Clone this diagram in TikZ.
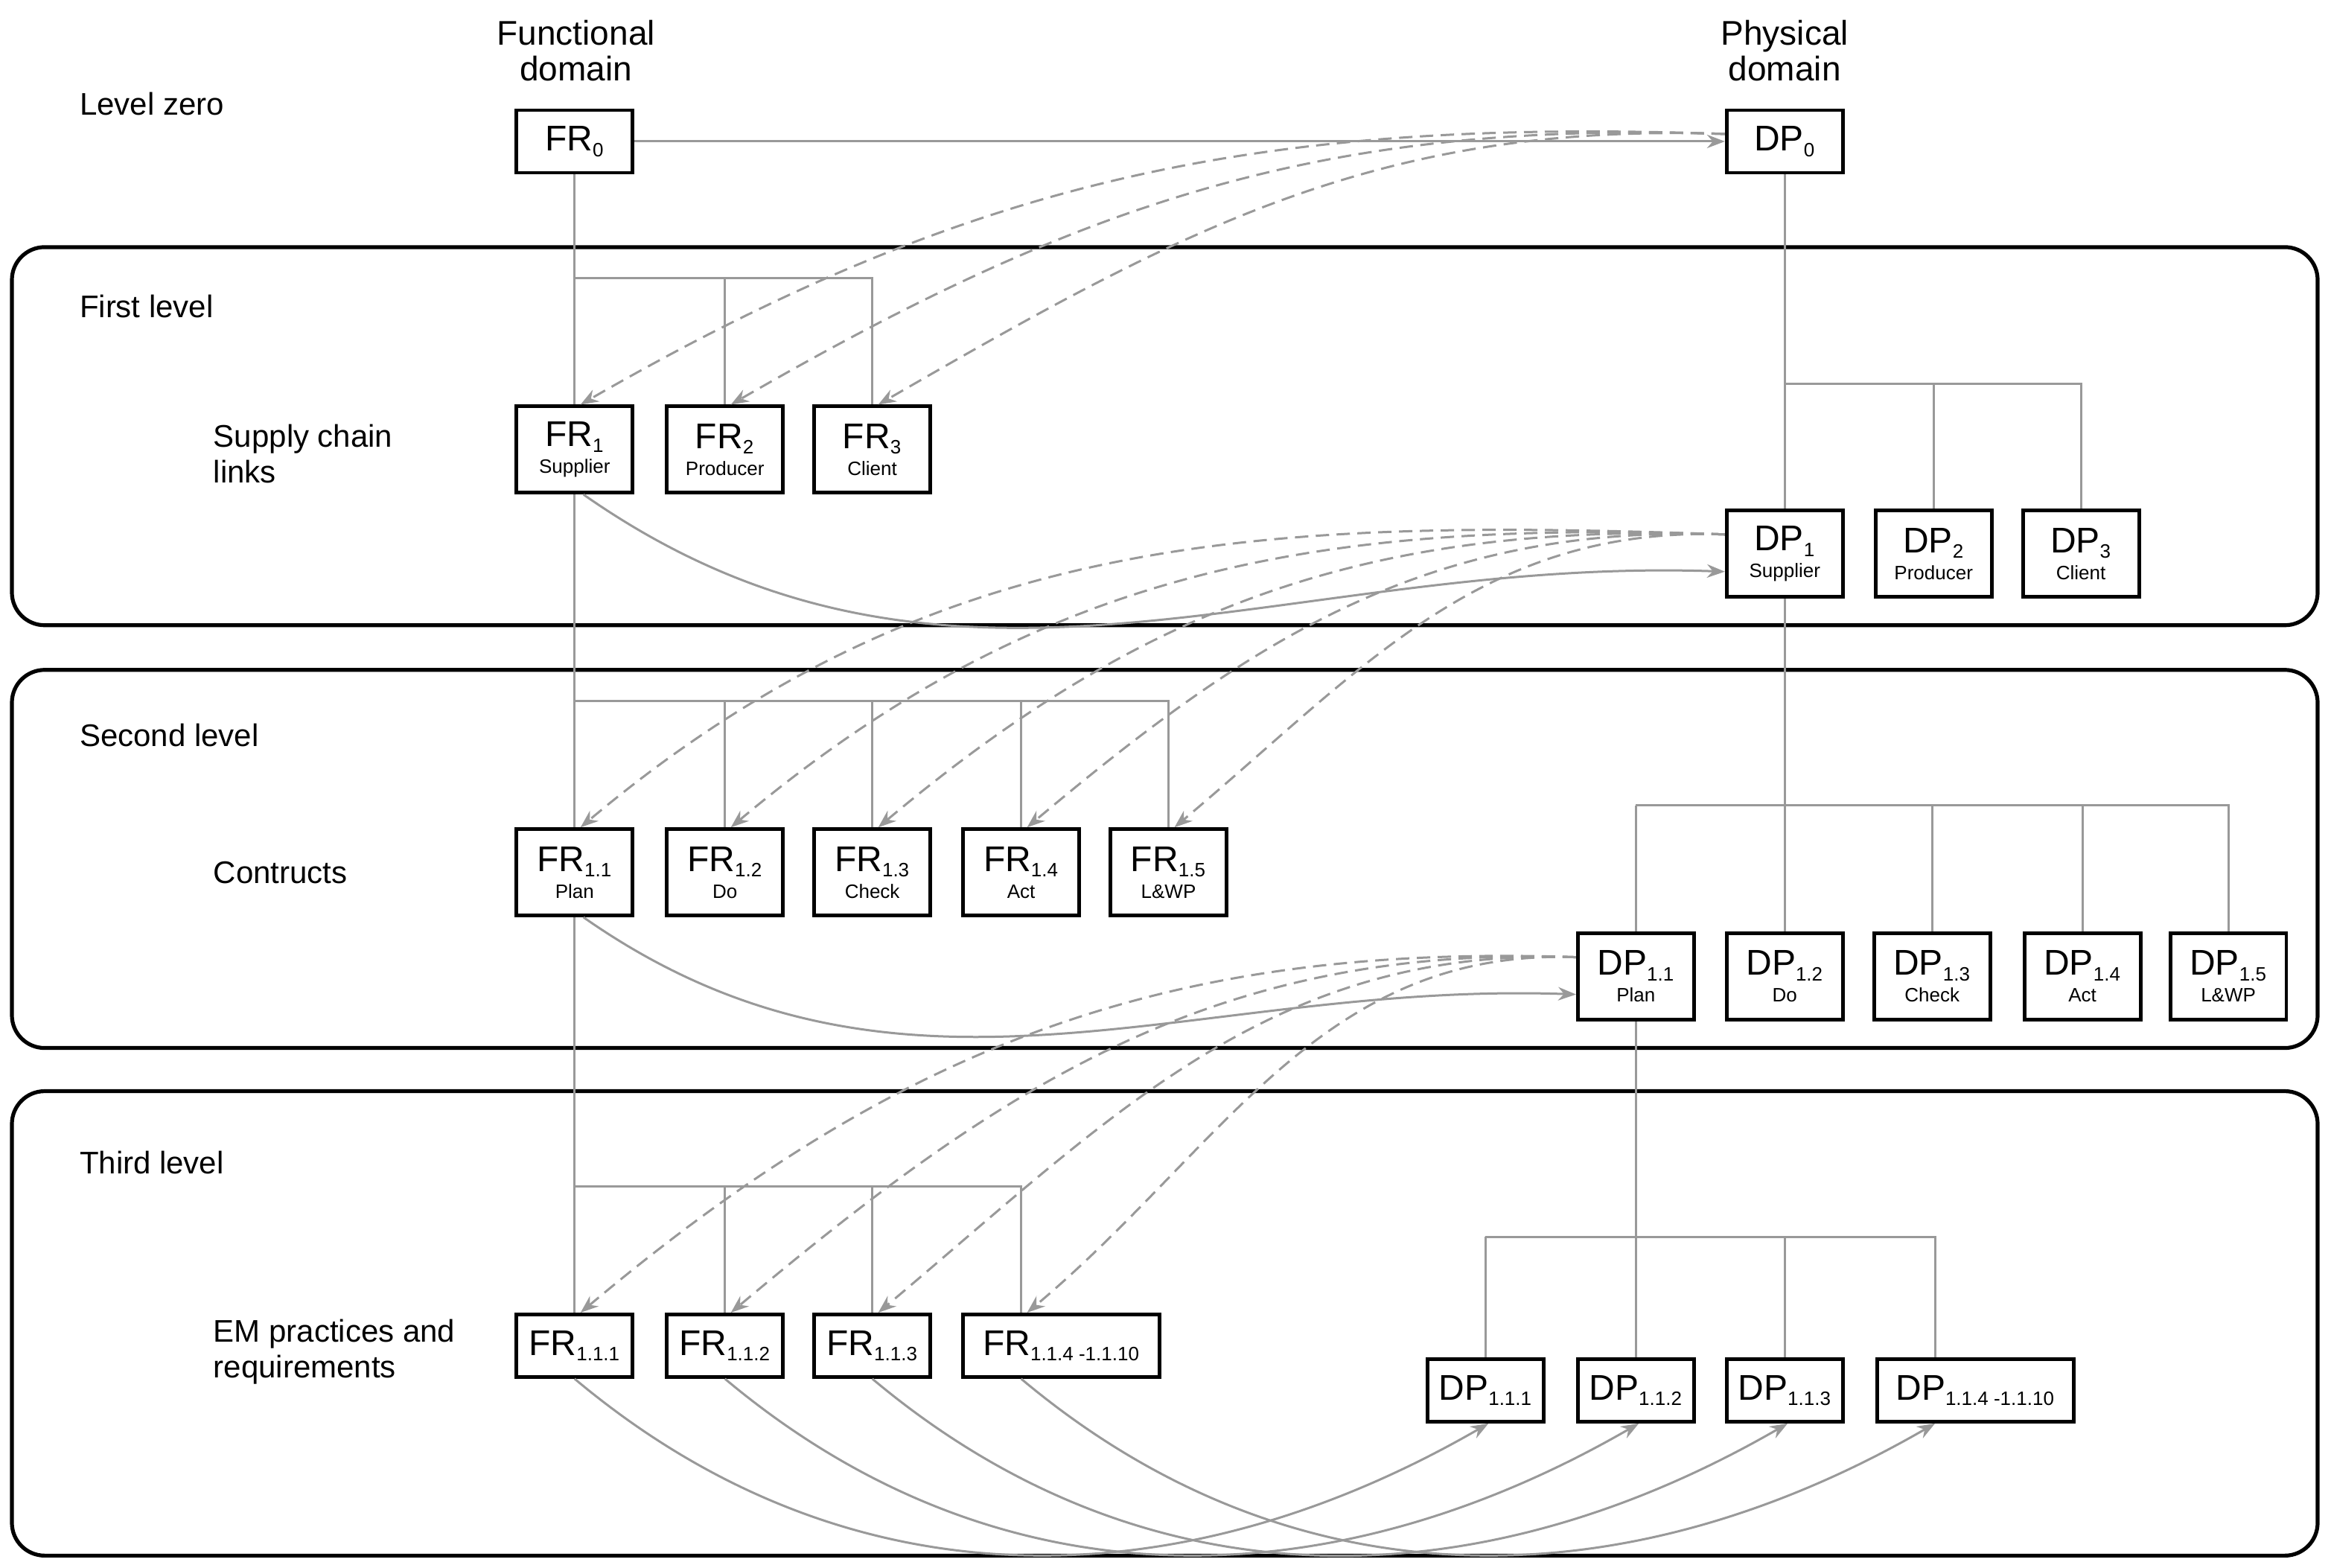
\documentclass[tikz,border=0pt]{standalone}
\usepackage{fontspec}
\setmainfont{Liberation Sans}
\usetikzlibrary{arrows.meta}
\begin{document}
\begin{tikzpicture}[x=1pt,y=-1pt,
 lvl/.style={draw=black,line width=2.6pt,rounded corners=22pt},
 bx/.style={draw=black,line width=2.4pt,fill=white,minimum width=78pt,minimum height=58pt,inner sep=1pt,align=center,font=\fontsize{24}{22}\selectfont},
 bs/.style={bx,minimum height=42pt},
 tr/.style={draw=gray!80,line width=1.5pt},
 ar/.style={draw=gray!80,line width=1.5pt,-{Stealth[length=12pt,width=9pt]}},
 da/.style={ar,dash pattern=on 9pt off 5pt},
 tx/.style={anchor=west,font=\fontsize{21}{24}\selectfont,align=left}]
\useasboundingbox (0,0) rectangle (1566,1053);
\newcommand{\sm}[1]{\\[-4pt]{\fontsize{13}{13}\selectfont #1}}
\newcommand{\sub}[1]{\textsubscript{\fontsize{13}{13}\selectfont #1}}
\draw[lvl] (8,166) rectangle (1557,420);
\draw[lvl] (8,450) rectangle (1557,704);
\draw[lvl] (8,733) rectangle (1557,1045);
\node[tx] (l0) at (50,70) {Level zero};
\node[tx] (l1) at (50,206) {First level};
\node[tx] (l2) at (50,494) {Second level};
\node[tx] (l3) at (50,781) {Third level};
\node[tx] (s1) at (140,305) {Supply chain\\links};
\node[tx] (s2) at (140,586) {Contructs};
\node[tx] (s3) at (140,908) {EM practices and\\requirements};
\node[align=center,font=\fontsize{23}{24}\selectfont] (fd) at (387,34) {Functional\\domain};
\node[align=center,font=\fontsize{23}{24}\selectfont] (pd) at (1199,34) {Physical\\domain};
% tree lines
\coordinate (a0) at (386,187); \coordinate (a3) at (586,187);
\coordinate (b0) at (386,471); \coordinate (b5) at (785,471);
\coordinate (c0) at (386,797); \coordinate (c4) at (686,797);
\coordinate (d0) at (1199,258); \coordinate (d3) at (1398,258);
\coordinate (e1) at (1099,541); \coordinate (e5) at (1497,541);
\coordinate (f1) at (998,831); \coordinate (f4) at (1300,831);
\draw[tr] (386,95)--(386,904);
\draw[tr] (1199,95)--(1199,372)--(1199,656);
\draw[tr] (1099,656)--(1099,934);
\draw[tr] (a0)--(a3)--(586,302) (487,187)--(487,302);
\draw[tr] (b0)--(b5)--(785,586) (487,471)--(487,586) (586,471)--(586,586) (686,471)--(686,586);
\draw[tr] (c0)--(c4)--(686,904) (487,797)--(487,904) (586,797)--(586,904);
\draw[tr] (d0)--(d3)--(1398,372) (1299,258)--(1299,372);
\draw[tr] (e1)--(e5)--(1497,656) (1099,541)--(1099,656) (1298,541)--(1298,656) (1399,541)--(1399,656);
\draw[tr] (f1)--(f4)--(1300,934) (998,831)--(998,934) (1199,831)--(1199,934);
% nodes
\node[bs] (FR0) at (386,95) {FR\sub{0}};
\node[bs] (DP0) at (1199,95) {DP\sub{0}};
\node[bx] (FR1) at (386,302) {FR\sub{1}\sm{Supplier}};
\node[bx] (FR2) at (487,302) {FR\sub{2}\sm{Producer}};
\node[bx] (FR3) at (586,302) {FR\sub{3}\sm{Client}};
\node[bx] (DP1) at (1199,372) {DP\sub{1}\sm{Supplier}};
\node[bx] (DP2) at (1299,372) {DP\sub{2}\sm{Producer}};
\node[bx] (DP3) at (1398,372) {DP\sub{3}\sm{Client}};
\node[bx] (FR11) at (386,586) {FR\sub{1.1}\sm{Plan}};
\node[bx] (FR12) at (487,586) {FR\sub{1.2}\sm{Do}};
\node[bx] (FR13) at (586,586) {FR\sub{1.3}\sm{Check}};
\node[bx] (FR14) at (686,586) {FR\sub{1.4}\sm{Act}};
\node[bx] (FR15) at (785,586) {FR\sub{1.5}\sm{L\&WP}};
\node[bx] (DP11) at (1099,656) {DP\sub{1.1}\sm{Plan}};
\node[bx] (DP12) at (1199,656) {DP\sub{1.2}\sm{Do}};
\node[bx] (DP13) at (1298,656) {DP\sub{1.3}\sm{Check}};
\node[bx] (DP14) at (1399,656) {DP\sub{1.4}\sm{Act}};
\node[bx] (DP15) at (1497,656) {DP\sub{1.5}\sm{L\&WP}};
\node[bs] (FR111) at (386,904) {FR\sub{1.1.1}};
\node[bs] (FR112) at (487,904) {FR\sub{1.1.2}};
\node[bs] (FR113) at (586,904) {FR\sub{1.1.3}};
\node[bs,minimum width=132pt] (FR114) at (713,904) {FR\sub{1.1.4 -1.1.10}};
\node[bs] (DP111) at (998,934) {DP\sub{1.1.1}};
\node[bs] (DP112) at (1099,934) {DP\sub{1.1.2}};
\node[bs] (DP113) at (1199,934) {DP\sub{1.1.3}};
\node[bs,minimum width=132pt] (DP114) at (1327,934) {DP\sub{1.1.4 -1.1.10}};
% solid arrows
\draw[ar] (FR0.east)--(DP0.west);
\draw[ar] ([xshift=6pt]FR1.south) to[out=-35,in=178] ([yshift=-12pt]DP1.west);
\draw[ar] ([xshift=6pt]FR11.south) to[out=-35,in=178] ([yshift=-12pt]DP11.west);
\draw[ar] (FR111.south) to[out=-40,in=-150] ([xshift=2pt]DP111.south);
\draw[ar] (FR112.south) to[out=-40,in=-150] ([xshift=2pt]DP112.south);
\draw[ar] (FR113.south) to[out=-40,in=-150] ([xshift=2pt]DP113.south);
\draw[ar] ([xshift=-27pt]FR114.south) to[out=-40,in=-150] ([xshift=-27pt]DP114.south);
% dashed arrows
\foreach \t in {FR1,FR2,FR3}
  \draw[da] ([yshift=5pt]DP0.west) to[out=178,in=30] ([xshift=4pt]\t.north);
\foreach \t in {FR11,FR12,FR13,FR14,FR15}
  \draw[da] ([yshift=13pt]DP1.west) to[out=178,in=40] ([xshift=4pt]\t.north);
\foreach \t in {FR111,FR112,FR113}
  \draw[da] ([yshift=13pt]DP11.west) to[out=178,in=40] ([xshift=4pt]\t.north);
\draw[da] ([yshift=13pt]DP11.west) to[out=178,in=40] ([xshift=-23pt]FR114.north);
\end{tikzpicture}
\end{document}
